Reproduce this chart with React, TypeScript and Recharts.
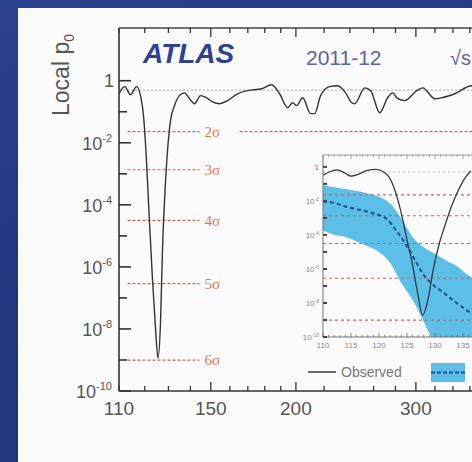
import React from 'react';
import { LineChart, Line, XAxis, YAxis, ReferenceLine, ComposedChart, Area } from 'recharts';

// ---------- main plot data (observed local p0 vs mH) ----------
const obsMass = [110, 112.1, 114.4, 116.7, 118.3, 119.5, 120.7, 121.9, 123.2, 124.5, 125.5, 126.6, 127.4, 128.3, 129.6, 130.9, 132.7, 134.9, 137.2, 139.6, 142.0, 144.9, 147.9, 150.9, 154.5, 158.8, 164.2, 169.9, 178.2, 184.2, 189.3, 194.5, 197.8, 200.5, 204.6, 210.2, 213.1, 217.4, 224.1, 230.3, 236.6, 241.5, 244.0, 252.4, 257.5, 265.5, 272.7, 277.4, 282.1, 288.9, 300.9, 307.0, 319.7, 327.3, 342.0, 362.2, 385];
const obsP = [0.380, 0.646, 0.355, 0.646, 0.331, 0.0741, 2.69e-3, 3.16e-5, 3.72e-7, 9.12e-9, 1.15e-9, 1.91e-8, 3.39e-6, 1.38e-4, 5.62e-3, 0.0513, 0.158, 0.331, 0.407, 0.263, 0.182, 0.331, 0.282, 0.209, 0.182, 0.229, 0.380, 0.479, 0.550, 0.741, 0.380, 0.135, 0.195, 0.158, 0.282, 0.0871, 0.0871, 0.331, 0.646, 0.692, 0.407, 0.195, 0.182, 0.589, 0.479, 0.0933, 0.282, 0.407, 0.263, 0.229, 0.479, 0.589, 0.263, 0.282, 0.380, 0.692, 0.550];

// ---------- inset data ----------
const insObsMass = [110.0, 111.1, 112.5, 113.9, 115.0, 116.4, 117.9, 119.5, 121.1, 122.1, 123.0, 124.1, 125.0, 125.9, 126.8, 127.8, 128.8, 129.6, 130.7, 131.8, 132.9, 134.1, 135.5, 136.4];
const insObsP = [0.331, 0.501, 0.661, 0.437, 0.288, 0.380, 0.617, 0.708, 0.437, 0.170, 0.0288, 1.29e-3, 5.01e-5, 2.57e-6, 5.75e-8, 1.95e-9, 1.95e-8, 6.61e-7, 2.57e-5, 3.80e-4, 4.37e-3, 0.0380, 0.257, 0.575];

const expMass = [110.0, 112.0, 114.3, 116.8, 119.1, 121.4, 123.0, 124.3, 125.4, 126.6, 128.0, 129.5, 130.9, 132.5, 133.9, 135.4, 136.4, 138.8];
const expP = [9.12e-3, 7.59e-3, 4.37e-3, 2.88e-3, 1.82e-3, 8.71e-4, 1.95e-4, 5.01e-5, 1.29e-5, 2.57e-6, 4.37e-7, 1.29e-7, 5.75e-8, 2.24e-8, 9.77e-9, 4.37e-9, 2.57e-9, 7.59e-10];

const bandMass = [110, 112, 114, 116, 118, 120, 122, 124, 126, 128, 130, 132, 134, 136, 138];
const bandLo = [1.82e-4, 1.02e-4, 7.59e-5, 4.17e-5, 2.19e-5, 9.77e-6, 2.24e-6, 1.48e-7, 1.48e-8, 7.59e-10, 3.47e-11, 3.2e-12, 3.2e-13, 3.2e-14, 3.2e-15];
const bandHi = [0.0832, 0.0646, 0.0501, 0.0380, 0.0275, 0.0178, 7.08e-3, 9.12e-4, 7.59e-5, 1.86e-5, 7.76e-6, 3.09e-6, 1.38e-6, 4.07e-7, 1.95e-7];

// ---------- significance levels ----------
const sigmaNames = ['2σ', '3σ', '4σ', '5σ', '6σ'];
const sigmaP = [2.275e-2, 1.35e-3, 3.167e-5, 2.867e-7, 9.866e-10];
const medianP = 0.5;
const sigmaSegStart = 113.2;
const sigmaSegEnd = 144.4;
const twoSigmaResume = 165.3;

// ---------- ticks ----------
const mainXTicks = [110, 120, 130, 140, 150, 160, 170, 180, 190, 200, 220, 240, 260, 280, 300, 320, 340, 360, 380, 400, 450, 500, 550, 600];
const mainXLabels = [110, 150, 200, 300];
const mainXMajor = [150, 200, 300, 400, 500];
const mainYTicks = [1e-10, 1e-9, 1e-8, 1e-7, 1e-6, 1e-5, 1e-4, 1e-3, 1e-2, 1e-1, 1];
const insetXTicks = [110, 111, 112, 113, 114, 115, 116, 117, 118, 119, 120, 121, 122, 123, 124, 125, 126, 127, 128, 129, 130, 131, 132, 133, 134, 135, 136, 137, 138, 139, 140, 141, 142, 143, 144, 145, 146, 147, 148, 149, 150];
const insetXLabels = [110, 115, 120, 125, 130, 135];
const insetXMajor = [110, 115, 120, 125, 130, 135, 140, 145, 150];
const insetYTicks = mainYTicks;

const mainData = obsMass.map((m, i) => ({ m, p: obsP[i] }));
const insObsData = insObsMass.map((m, i) => ({ m, p: insObsP[i] }));
const expData = expMass.map((m, i) => ({ m, p: expP[i] }));
const bandData = bandMass.map((m, i) => ({ m, band: [bandLo[i], bandHi[i]] }));

const FONT = 'Liberation Sans, Arial, Helvetica, sans-serif';
const SERIF = 'Liberation Serif, Times New Roman, serif';
const M = { left: 119, top: 28, bottom: 391 };
const I = { left: 323, top: 155, bottom: 337 };
const RED = '#d8604e';

function mainXTick(props: any) {
  const { x, payload } = props;
  const v = payload.value as number;
  const lab = mainXLabels.includes(v);
  const len = mainXMajor.includes(v) ? 9 : 5;
  return (
    <g>
      <line x1={x} x2={x} y1={M.bottom} y2={M.bottom - len} stroke="#333" strokeWidth={1.3} />
      <line x1={x} x2={x} y1={M.top} y2={M.top + len} stroke="#333" strokeWidth={1.3} />
      {lab && (
        <text x={x} y={M.bottom + 24} textAnchor="middle" fontSize={19} fill="#555" fontFamily={FONT}>
          {v}
        </text>
      )}
    </g>
  );
}

function mainYTick(props: any) {
  const { y, payload } = props;
  const v = payload.value as number;
  const e = Math.round(Math.log10(v));
  const lab = e % 2 === 0;
  const len = lab ? 12 : 8;
  return (
    <g>
      <line x1={M.left} x2={M.left + len} y1={y} y2={y} stroke="#333" strokeWidth={1.6} />
      {lab && e === 0 && (
        <text x={114} y={y + 6} textAnchor="end" fontSize={18} fill="#555" fontFamily={FONT}>1</text>
      )}
      {lab && e !== 0 && (
        <text x={112} y={y + 7} textAnchor="end" fontSize={18} fill="#555" fontFamily={FONT}>
          10<tspan dy={-8} fontSize={11}>{`${e}`}</tspan>
        </text>
      )}
    </g>
  );
}

function insetXTick(props: any) {
  const { x, payload } = props;
  const v = payload.value as number;
  const lab = insetXLabels.includes(v);
  const len = insetXMajor.includes(v) ? 4 : 2;
  return (
    <g>
      <line x1={x} x2={x} y1={I.bottom} y2={I.bottom - len} stroke="#666" strokeWidth={0.8} />
      <line x1={x} x2={x} y1={I.top} y2={I.top + len} stroke="#888" strokeWidth={0.8} />
      {lab && (
        <text x={x} y={I.bottom + 11} textAnchor="middle" fontSize={8} fill="#888" fontFamily={FONT}>
          {v}
        </text>
      )}
    </g>
  );
}

function insetYTick(props: any) {
  const { y, payload } = props;
  const v = payload.value as number;
  const e = Math.round(Math.log10(v));
  const lab = e % 2 === 0;
  return (
    <g>
      <line x1={I.left} x2={I.left + 4} y1={y} y2={y} stroke="#444" strokeWidth={2} />
      {lab && e === 0 && (
        <text x={319} y={y + 3} textAnchor="end" fontSize={8} fill="#777" fontFamily={FONT}>1</text>
      )}
      {lab && e !== 0 && (
        <text x={319} y={y + 3} textAnchor="end" fontSize={8} fill="#888" fontFamily={FONT}>
          10<tspan dy={-3} fontSize={5}>{`${e}`}</tspan>
        </text>
      )}
    </g>
  );
}

export default function App() {
  return (
    <div
      style={{
        position: 'absolute',
        left: 0,
        top: 0,
        width: 472,
        height: 462,
        overflow: 'hidden',
        background: 'linear-gradient(160deg, #2a428f 0%, #1f377f 50%, #22397f 100%)',
      }}
    >
      <div style={{ position: 'absolute', left: 18, top: 8, width: 460, height: 460, background: '#fbfbfb' }} />

      {/* main chart */}
      <div style={{ position: 'absolute', left: 0, top: 0 }}>
        <LineChart width={640} height={462} data={mainData} margin={{ top: 28, right: 19, bottom: 41, left: 59 }}>
          <XAxis
            dataKey="m"
            type="number"
            scale="log"
            domain={[110, 600]}
            allowDataOverflow
            ticks={mainXTicks}
            interval={0}
            tick={mainXTick}
            tickLine={false}
            axisLine={{ stroke: '#333', strokeWidth: 1.5 }}
            height={30}
          />
          <YAxis
            type="number"
            scale="log"
            domain={[1e-10, 50]}
            allowDataOverflow
            ticks={mainYTicks}
            interval={0}
            tick={mainYTick}
            tickLine={false}
            axisLine={{ stroke: '#333', strokeWidth: 1.6 }}
            width={60}
          />
          <ReferenceLine y={50} stroke="#444" strokeWidth={1.3} />
          <ReferenceLine
            segment={[{ x: 110, y: medianP }, { x: 600, y: medianP }]}
            stroke="#b5b5b5"
            strokeDasharray="2 2"
            strokeWidth={1.2}
          />
          {sigmaNames.map((name, i) => (
            <ReferenceLine
              key={name}
              segment={[{ x: sigmaSegStart, y: sigmaP[i] }, { x: sigmaSegEnd, y: sigmaP[i] }]}
              stroke={RED}
              strokeDasharray="3 2"
              strokeWidth={1.2}
              label={{ value: name, position: 'right', offset: 5, fill: '#e3775a', fontSize: 15, fontFamily: SERIF }}
            />
          ))}
          <ReferenceLine
            segment={[{ x: twoSigmaResume, y: sigmaP[0] }, { x: 600, y: sigmaP[0] }]}
            stroke={RED}
            strokeDasharray="3 2"
            strokeWidth={1.2}
          />
          <Line
            dataKey="p"
            type="monotone"
            stroke="#333"
            strokeWidth={1.4}
            dot={false}
            isAnimationActive={false}
          />
        </LineChart>
      </div>

      {/* inset chart */}
      <div style={{ position: 'absolute', left: 0, top: 0 }}>
        <ComposedChart width={640} height={462} data={bandData} margin={{ top: 155, right: 93, bottom: 105, left: 283 }}>
          <XAxis
            dataKey="m"
            type="number"
            domain={[110, 150]}
            allowDataOverflow
            ticks={insetXTicks}
            interval={0}
            tick={insetXTick}
            tickLine={false}
            axisLine={{ stroke: '#777', strokeWidth: 1 }}
            height={20}
          />
          <YAxis
            type="number"
            scale="log"
            domain={[1e-10, 5]}
            allowDataOverflow
            ticks={insetYTicks}
            interval={0}
            tick={insetYTick}
            tickLine={false}
            axisLine={{ stroke: '#777', strokeWidth: 1 }}
            width={40}
          />
          <ReferenceLine y={5} stroke="#999" strokeWidth={1} />
          <Area
            dataKey="band"
            type="monotone"
            fill="#5cbfe8"
            fillOpacity={1}
            stroke="none"
            isAnimationActive={false}
          />
          <ReferenceLine y={medianP} stroke="#c0c0c0" strokeDasharray="2 3" strokeWidth={1} />
          {sigmaNames.map((name, i) => (
            <ReferenceLine key={name} y={sigmaP[i]} stroke={RED} strokeDasharray="3 3" strokeWidth={1.1} />
          ))}
          <Line
            data={expData}
            dataKey="p"
            type="monotone"
            stroke="#1b4f8e"
            strokeWidth={2}
            strokeDasharray="4 3"
            dot={false}
            isAnimationActive={false}
          />
          <Line
            data={insObsData}
            dataKey="p"
            type="monotone"
            stroke="#2f3a40"
            strokeWidth={1.3}
            dot={false}
            isAnimationActive={false}
          />
        </ComposedChart>
      </div>

      {/* titles and legend */}
      <svg width={472} height={462} style={{ position: 'absolute', left: 0, top: 0, pointerEvents: 'none' }}>
        <text x={143} y={63} fontSize={28} fontWeight="bold" fontStyle="italic" fill="#2e3f97" fontFamily={FONT}>
          ATLAS
        </text>
        <text x={306} y={65} fontSize={21} fill="#5a65a6" fontFamily={FONT}>
          2011-12
        </text>
        <text x={450} y={65} fontSize={20} fill="#5a65a6" fontFamily={FONT}>
          √s
        </text>
        <text transform="translate(69,75) rotate(-90)" textAnchor="middle" fontSize={23} fill="#555" fontFamily={FONT}>
          Local p<tspan dy={5} fontSize={14}>0</tspan>
        </text>
        <line x1={308} x2={336} y1={372} y2={372} stroke="#444" strokeWidth={1.6} />
        <text x={341} y={377} fontSize={14} fill="#777" fontFamily={FONT}>
          Observed
        </text>
        <rect x={431} y={363} width={34} height={19} fill="#5cbfe8" />
        <line x1={431} x2={465} y1={372.5} y2={372.5} stroke="#1b4f8e" strokeWidth={2} strokeDasharray="4 2" />
      </svg>
    </div>
  );
}
